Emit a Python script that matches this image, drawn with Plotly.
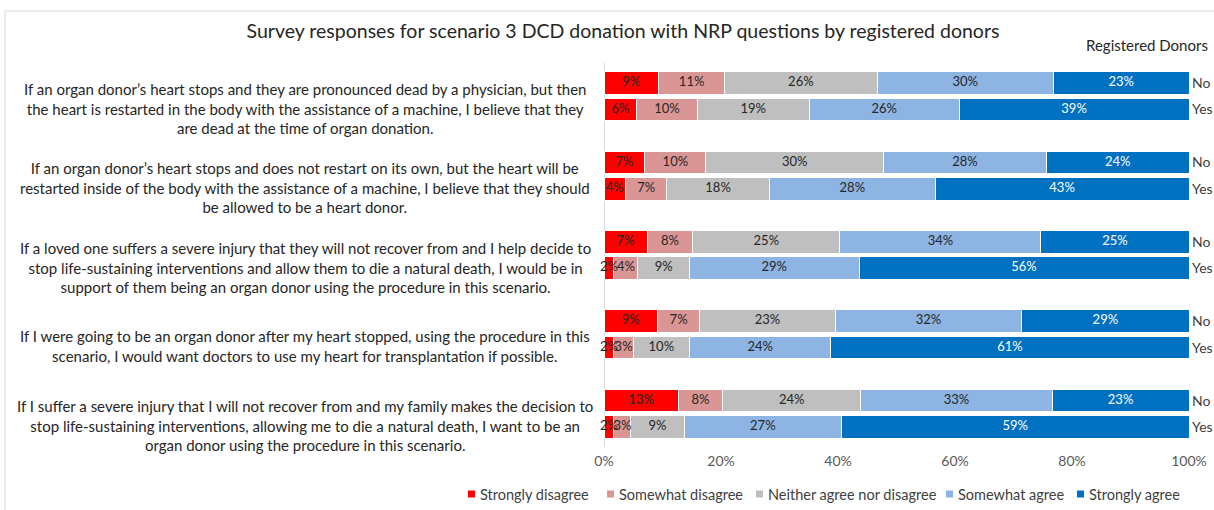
import plotly.graph_objects as go

# Survey statements (one block of text per question)
questions = [
    "If an organ donor’s heart stops and they are pronounced dead by a physician, but then<br>"
    "the heart is restarted in the body with the assistance of a machine, I believe that they<br>"
    "are dead at the time of organ donation.",
    "If an organ donor’s heart stops and does not restart on its own, but the heart will be<br>"
    "restarted inside of the body with the assistance of a machine, I believe that they should<br>"
    "be allowed to be a heart donor.",
    "If a loved one suffers a severe injury that they will not recover from and I help decide to<br>"
    "stop life-sustaining interventions and allow them to die a natural death, I would be in<br>"
    "support of them being an organ donor using the procedure in this scenario.",
    "If I were going to be an organ donor after my heart stopped, using the procedure in this<br>"
    "scenario, I would want doctors to use my heart for transplantation if possible.",
    "If I suffer a severe injury that I will not recover from and my family makes the decision to<br>"
    "stop life-sustaining interventions, allowing me to die a natural death, I want to be an<br>"
    "organ donor using the procedure in this scenario.",
]

donor_groups = ["No", "Yes"]

categories = [
    "Strongly disagree",
    "Somewhat disagree",
    "Neither agree nor disagree",
    "Somewhat agree",
    "Strongly agree",
]

# Percent of respondents per question, registered donor = No
strongly_disagree_no = [9.35, 7.0, 7.35, 9.1, 12.7]
somewhat_disagree_no = [11.25, 10.4, 7.85, 7.3, 7.6]
neither_no = [26.1, 30.4, 25.1, 23.1, 23.6]
somewhat_agree_no = [30.1, 27.8, 34.4, 31.9, 32.7]
strongly_agree_no = [23.2, 24.4, 25.3, 28.6, 23.4]

# Percent of respondents per question, registered donor = Yes
strongly_disagree_yes = [5.6, 3.7, 1.7, 1.7, 1.7]
somewhat_disagree_yes = [10.3, 7.0, 4.1, 3.3, 2.9]
neither_yes = [19.2, 17.6, 8.8, 9.6, 9.1]
somewhat_agree_yes = [25.6, 28.3, 29.0, 24.2, 26.9]
strongly_agree_yes = [39.3, 43.4, 56.4, 61.2, 59.4]

x_ticks = [0, 20, 40, 60, 80, 100]
x_tick_labels = ["0%", "20%", "40%", "60%", "80%", "100%"]

colors = ["#FF0000", "#DA9694", "#BFBFBF", "#8DB4E2", "#0070C0"]
label_colors = ["#262626", "#262626", "#262626", "#262626", "#FFFFFF"]

series_no = [strongly_disagree_no, somewhat_disagree_no, neither_no,
             somewhat_agree_no, strongly_agree_no]
series_yes = [strongly_disagree_yes, somewhat_disagree_yes, neither_yes,
              somewhat_agree_yes, strongly_agree_yes]

FONT = "Lato, 'Open Sans', sans-serif"
GROUP_STEP = 3  # rows per question: No, Yes, spacer

# Figure / plot-area geometry in pixels
W, H = 1214, 510
M_L, M_R, M_T, M_B = 604, 25, 63, 63
PW, PH = W - M_L - M_R, H - M_T - M_B


def px_x(px):
    """Horizontal pixel -> paper coordinate."""
    return (px - M_L) / PW


def px_y(py):
    """Vertical pixel (from top) -> paper coordinate."""
    return (H - M_B - py) / PH


# Legend row: left edge of each key square, and the row's centre line
legend_key_px = [468, 607, 756, 946, 1077]
LEGEND_Y_PX = 494
KEY = 7

# Row positions: "No" row then "Yes" row for each question
row_pos, row_text = [], []
for g in range(len(questions)):
    for k, name in enumerate(donor_groups):
        row_pos.append(g * GROUP_STEP + k)
        row_text.append(name)

# Interleave No / Yes values per category to follow row_pos
stacked = []
for s_no, s_yes in zip(series_no, series_yes):
    xs = []
    for a, b in zip(s_no, s_yes):
        xs.extend([a, b])
    stacked.append(xs)

fig = go.Figure()
for cat, col, xs in zip(categories, colors, stacked):
    fig.add_trace(go.Bar(
        name=cat,
        x=xs,
        y=row_pos,
        orientation="h",
        width=0.85,
        marker=dict(color=col, line=dict(color="#FFFFFF", width=1)),
        hoverinfo="skip",
        showlegend=False,
    ))

# Percentage labels at the centre of each segment, drawn above all bars
lab_x, lab_y, lab_txt, lab_col = [], [], [], []
left = [0.0] * len(row_pos)
for xs, tcol in zip(stacked, label_colors):
    for i, v in enumerate(xs):
        lab_x.append(left[i] + v / 2)
        lab_y.append(row_pos[i])
        lab_txt.append(f"{v:.0f}%")
        lab_col.append(tcol)
        left[i] += v

fig.add_trace(go.Scatter(
    x=lab_x,
    y=lab_y,
    mode="text",
    text=lab_txt,
    textposition="middle center",
    textfont=dict(color=lab_col, size=13, family=FONT),
    hoverinfo="skip",
    showlegend=False,
    cliponaxis=False,
))

# Question text to the left of each pair of bars
for g, q in enumerate(questions):
    fig.add_annotation(
        text=q,
        xref="paper", yref="y",
        x=px_x(305), y=g * GROUP_STEP + 0.5,
        xanchor="center", yanchor="middle",
        align="center",
        yshift=-12,
        showarrow=False,
        font=dict(size=15, color="#262626", family=FONT),
    )

fig.add_annotation(
    text="Registered Donors",
    xref="paper", yref="paper",
    x=px_x(1210), y=px_y(45),
    xanchor="right", yanchor="middle",
    showarrow=False,
    font=dict(size=15, color="#262626", family=FONT),
)

# Legend along the bottom: colour key square + category name
for cat, col, kx in zip(categories, colors, legend_key_px):
    fig.add_shape(
        type="rect", xref="paper", yref="paper",
        x0=px_x(kx), x1=px_x(kx + KEY),
        y0=px_y(LEGEND_Y_PX + KEY / 2), y1=px_y(LEGEND_Y_PX - KEY / 2),
        fillcolor=col, line=dict(width=0),
    )
    fig.add_annotation(
        text=cat,
        xref="paper", yref="paper",
        x=px_x(kx + KEY + 3), y=px_y(LEGEND_Y_PX),
        xanchor="left", yanchor="middle",
        showarrow=False,
        font=dict(size=14.5, color="#404040", family=FONT),
    )

# Chart frame
fig.add_shape(
    type="rect", xref="paper", yref="paper",
    x0=px_x(5), x1=px_x(1225), y0=px_y(525), y1=px_y(11),
    line=dict(color="#D9D9D9", width=1),
    fillcolor="rgba(0,0,0,0)",
    layer="below",
)

fig.update_layout(
    width=W,
    height=H,
    margin=dict(l=M_L, r=M_R, t=M_T, b=M_B, autoexpand=False),
    paper_bgcolor="#FFFFFF",
    plot_bgcolor="#FFFFFF",
    barmode="stack",
    showlegend=False,
    title=dict(
        text="Survey responses for scenario 3 DCD donation with NRP questions by registered donors",
        x=623 / W, xanchor="center",
        y=1 - 31 / H, yanchor="middle",
        font=dict(size=19.5, color="#262626", family=FONT),
    ),
    xaxis=dict(
        range=[0, 100],
        tickmode="array",
        tickvals=x_ticks,
        ticktext=x_tick_labels,
        showgrid=False,
        zeroline=True,
        zerolinecolor="#D9D9D9",
        zerolinewidth=1,
        showline=False,
        ticks="",
        ticklabelstandoff=4,
        tickfont=dict(size=14, color="#595959", family=FONT),
    ),
    yaxis=dict(
        range=[len(questions) * GROUP_STEP - 1.25, -0.75],
        tickvals=row_pos,
        ticktext=row_text,
        side="right",
        showgrid=False,
        zeroline=False,
        showline=False,
        ticks="",
        ticklabelstandoff=2,
        tickfont=dict(size=14, color="#404040", family=FONT),
    ),
)

fig.write_html("out.html")
